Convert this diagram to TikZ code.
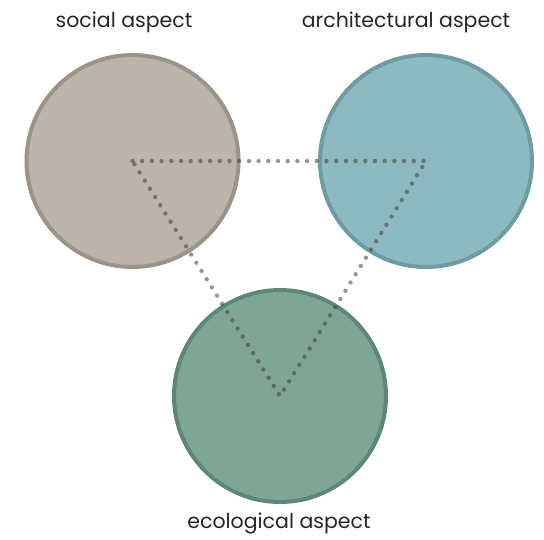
\documentclass[tikz,border=0pt]{standalone}
\usepackage{fontspec}
\setmainfont{Poppins}
\usetikzlibrary{positioning}

\definecolor{socialfill}{HTML}{BCB4AB}
\definecolor{socialline}{HTML}{9A948A}
\definecolor{archifill}{HTML}{8DBAC0}
\definecolor{archiline}{HTML}{6E9CA2}
\definecolor{ecofill}{HTML}{7FA595}
\definecolor{ecoline}{HTML}{5D8877}
\definecolor{dotgray}{HTML}{404040}

\tikzset{
	aspect/.style = {circle, minimum size = 2*\r pt, inner sep = 0pt, line width = 4pt},
	label text/.style = {font = \fontsize{20.5}{24}\selectfont, text = black!85},
	dots/.style = {dotgray, opacity = 0.55, line width = 4.4pt, line cap = round,
		dash pattern = on 0pt off 9.7pt}
}

\begin{document}
\begin{tikzpicture}[x = 1pt, y = -1pt]
			\def\r{106};
			
			\useasboundingbox (0,0) rectangle (544,539);
			
			\node[aspect, fill = socialfill, draw = socialline] (social) at (132.5,161) {};
			\node[aspect, fill = archifill, draw = archiline] (archi) at (426,161) {};
			\node[aspect, fill = ecofill, draw = ecoline] (eco) at (280,396) {};
			
			\draw[dots] (social.center) -- (archi.center) -- (eco.center) -- cycle;
			
			\node[label text] (socialtext) at (124,22) {social aspect};
			\node[label text] (architext) at (406,22) {architectural aspect};
			\node[label text] (ecotext) at (279,523) {ecological aspect};
		\end{tikzpicture}
\end{document}
